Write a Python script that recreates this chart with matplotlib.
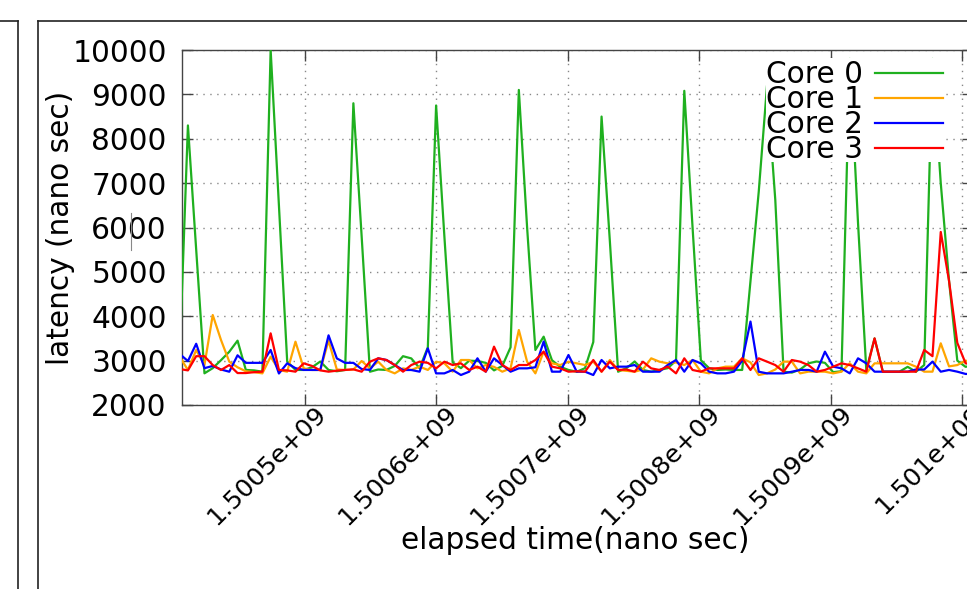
import numpy as np
import matplotlib
matplotlib.use("Agg")
from matplotlib import pyplot as plt
from matplotlib import ticker, transforms
from matplotlib.lines import Line2D
from matplotlib.patches import Rectangle

# sampled latency per core (nano sec), one value per sampling step
core0 = [3100, 8300, 5500, 2714, 2830, 3010, 3200, 3450, 2790, 2780,
         2750, 10000, 6500, 2980, 2790, 2790, 2850, 2980, 2790, 2760,
         2790, 8800, 5800, 2750, 2800, 2790, 2880, 3100, 3050, 2830,
         3300, 8750, 5800, 2960, 2830, 3000, 2990, 2950, 2780, 2880,
         3300, 9100, 6000, 3240, 3540, 3010, 2860, 2790, 2750, 2830,
         3420, 8500, 5700, 2750, 2830, 2980, 2790, 2750, 2790, 2830,
         3000, 9080, 6000, 3010, 2830, 2790, 2800, 2790, 2790, 4790,
         6810, 9200, 6620, 2750, 2730, 2800, 2940, 2980, 2950, 2740,
         2760, 9800, 6100, 2790, 3500, 2750, 2750, 2750, 2860, 2750,
         2900, 9800, 7000, 4800, 3000, 2860, 2900]
core1 = [3089, 2789, 3239, 2900, 4028, 3465, 2976, 2850, 2760, 2740,
         2713, 3089, 2789, 2751, 3427, 2826, 2789, 2789, 3450, 2800,
         2790, 2800, 2991, 2826, 2976, 2789, 2713, 2826, 2789, 2864,
         2790, 2976, 2939, 2751, 3014, 3014, 2826, 2901, 2860, 2751,
         2826, 3690, 2976, 2713, 3202, 2939, 2901, 2976, 2939, 2901,
         2976, 2751, 3014, 2789, 2770, 2751, 2800, 3052, 2976, 2939,
         2960, 2901, 3014, 2751, 2713, 2826, 2864, 2864, 3052, 2960,
         2676, 2713, 2800, 2977, 2977, 2713, 2751, 2751, 2751, 2713,
         2751, 2939, 2751, 2713, 2939, 2939, 2939, 2939, 2939, 2864,
         2751, 2751, 3390, 2870, 2900, 3000, 2950]
core2 = [3150, 2990, 3380, 2830, 2880, 2800, 2750, 3120, 2950, 2950,
         2950, 3240, 2710, 2940, 2830, 2790, 2790, 2790, 3570, 3050,
         2950, 2950, 2810, 2790, 3052, 3014, 2901, 2789, 2789, 2751,
         3277, 2713, 2713, 2789, 2676, 2751, 3052, 2751, 3052, 2901,
         2751, 2826, 2826, 2850, 3430, 2751, 2751, 3127, 2751, 2751,
         2676, 3014, 2826, 2864, 2864, 2901, 2751, 2751, 2751, 2901,
         3014, 2751, 3014, 2939, 2751, 2713, 2713, 2751, 3000, 3880,
         2750, 2713, 2713, 2713, 2750, 2790, 2790, 2751, 3202, 2864,
         2826, 2713, 3052, 2939, 2751, 2751, 2751, 2751, 2751, 2800,
         2800, 2977, 2751, 2790, 2751, 2700, 2700]
core3 = [2811, 2780, 3100, 3100, 2900, 2789, 2900, 2720, 2720, 2740,
         2751, 3615, 2789, 2780, 2751, 2939, 2880, 2780, 2751, 2773,
         2790, 2803, 2751, 2976, 3052, 3014, 2901, 2751, 2901, 2976,
         2950, 2826, 2976, 2901, 2939, 2789, 2864, 2751, 3315, 2901,
         2789, 2901, 2901, 3014, 3202, 2864, 2826, 2751, 2760, 2751,
         3014, 2751, 2976, 2789, 2800, 2751, 2976, 2826, 2789, 2864,
         2713, 3052, 2789, 2751, 2826, 2826, 2826, 2826, 3052, 2789,
         3052, 2977, 2900, 2751, 3014, 2977, 2900, 2751, 2790, 2864,
         2939, 2900, 2826, 2751, 3502, 2751, 2751, 2751, 2751, 2751,
         3240, 3100, 5900, 4800, 3400, 2940, 2900]

labels = ["Core 0", "Core 1", "Core 2", "Core 3"]
colors = ["#1fb01f", "#ffa500", "#0000ff", "#ff0000"]

t0 = 1.5004046e9      # first sample time
step = 6296.0         # sampling interval (nano sec)
t = t0 + step * np.arange(len(core0))

xticks = [1.5005e9, 1.5006e9, 1.5007e9, 1.5008e9, 1.5009e9, 1.501e9]
yticks = list(range(2000, 10001, 1000))

FS = 21.3
plt.rcParams["font.family"] = ["DejaVu Sans"]
fig = plt.figure(figsize=(9.67, 5.89), dpi=100)
W, H = 967.0, 589.0
ax = fig.add_axes([182 / W, 1 - 405 / H, (973 - 182) / W, 355 / H])

for vals, lab, c in zip([core0, core1, core2, core3], labels, colors):
    ax.plot(t, vals, color=c, lw=1.6, label=lab, zorder=3)

px = 131.4 / 1e5
ax.set_xlim(1.5005e9 - (305 - 182) / px, 1.5005e9 + (973 - 305) / px)
ax.set_ylim(2000, 10000)
ax.set_xticks(xticks)
ax.set_yticks(yticks)
ax.xaxis.set_major_formatter(ticker.FuncFormatter(lambda v, p: "%g" % v))

ax.grid(True, color="#888888", linestyle=(0, (1, 4)), lw=1.0)
ax.tick_params(direction="in", length=8, width=1, color="#444444",
               top=True, right=True)
ax.tick_params(axis="y", pad=11, labelsize=FS)
ax.tick_params(axis="x", pad=3.5, labelsize=18.2)
for s in ax.spines.values():
    s.set_color("#444444")
    s.set_linewidth(1)

off = transforms.ScaledTranslation(12.5 / 72, 0, fig.dpi_scale_trans)
for lab in ax.get_xticklabels():
    lab.set_rotation(45)
    lab.set_ha("right")
    lab.set_va("center")
    lab.set_rotation_mode("anchor")
    lab.set_transform(lab.get_transform() + off)

ax.set_xlabel("elapsed time(nano sec)", fontsize=FS)
ax.set_ylabel("latency (nano sec)", fontsize=FS)
ax.xaxis.set_label_coords((575 - 182) / 791, (405 - 526) / 355)
ax.yaxis.set_label_coords((75 - 182) / 791, 0.5)

# gnuplot-style opaque key: text on the left, line sample on the right
ax.add_patch(Rectangle((0.738, 0.685), 0.227, 0.292, transform=ax.transAxes,
                       facecolor="white", edgecolor="none", zorder=5))
row_text = [0.907, 0.837, 0.766, 0.696]
row_line = [0.936, 0.866, 0.795, 0.725]
for lab, c, yt, yl in zip(labels, colors, row_text, row_line):
    ax.text(0.861, yt, lab, transform=ax.transAxes, ha="right", va="baseline",
            fontsize=FS, zorder=6)
    ax.add_line(Line2D([0.876, 0.962], [yl, yl], transform=ax.transAxes,
                       color=c, lw=1.6, zorder=6))

# window frames of the screenshot
fl = dict(color="#222222", lw=1.2, transform=fig.transFigure)
fig.add_artist(Line2D([0, 18 / W], [1 - 21 / H, 1 - 21 / H], **fl))
fig.add_artist(Line2D([18 / W, 18 / W], [1 - 21 / H, 0], **fl))
fig.add_artist(Line2D([38 / W, 1], [1 - 21 / H, 1 - 21 / H], **fl))
fig.add_artist(Line2D([38 / W, 38 / W], [1 - 21 / H, 0], **fl))
fig.add_artist(Line2D([131 / W, 131 / W], [1 - 213 / H, 1 - 250 / H],
                      color="#888888", lw=0.8, transform=fig.transFigure))

fig.savefig("out.png", dpi=100)
